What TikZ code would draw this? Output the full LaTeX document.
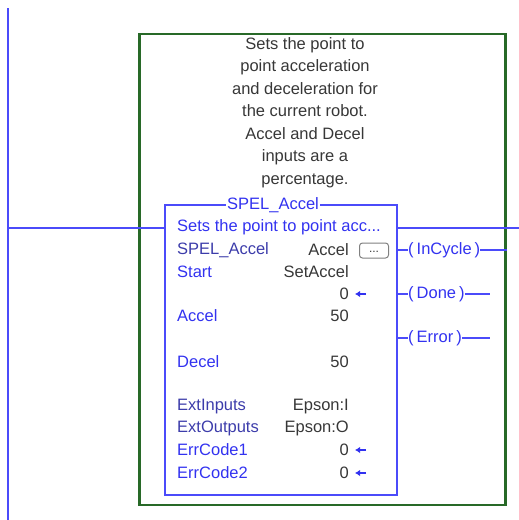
\documentclass[tikz,border=0pt]{standalone}
\usepackage{fontspec}
\setmainfont{Liberation Sans}
\usetikzlibrary{arrows.meta}
\definecolor{lblue}{RGB}{75,75,250}
\definecolor{tblue}{RGB}{50,50,240}
\definecolor{slate}{RGB}{60,60,170}
\definecolor{tgray}{RGB}{55,55,55}
\definecolor{lgreen}{RGB}{40,105,40}
\begin{document}
\begin{tikzpicture}[x=1pt,y=-1pt,
  txt/.style={inner sep=0pt,font=\fontsize{16.5}{22.5}\selectfont},
  lbl/.style={txt,anchor=west,text=tblue},
  slbl/.style={txt,anchor=west,text=slate},
  val/.style={txt,anchor=east,text=tgray},
  coil/.style={txt,anchor=west,text=tblue},
  wire/.style={draw=lblue,line width=1.5pt},
  back/.style={-{Latex[length=5pt,width=6.5pt]},draw=tblue,line width=1.7pt}]
\useasboundingbox (0,0) rectangle (519,520);
% rails
\coordinate (railtop) at (8,8);
\coordinate (railbot) at (8,520);
\draw[wire] (railtop) -- (railbot);
% green box
\node[draw=lgreen,line width=2.5pt,minimum width=366pt,minimum height=471pt,inner sep=0pt] (gbox) at (322.5,269.5) {};
% description
\node[txt,text=tgray,align=center,font=\fontsize{16.5}{22.5}\selectfont] (desc) at (305,112.5)
 {Sets the point to\\point acceleration\\and deceleration for\\the current robot.\\Accel and Decel\\inputs are a\\percentage.};
% function block
\node[draw=lblue,line width=1.5pt,minimum width=232pt,minimum height=290pt,inner sep=0pt] (fb) at (281,350) {};
\node[txt,text=tblue,fill=white,inner xsep=1pt] (title) at (273,205) {SPEL\_Accel};
% rung
\coordinate (rl) at (8,228);
\coordinate (rr) at (519,228);
\draw[wire] (rl) -- (fb.west |- rl);
\draw[wire] (fb.east |- rr) -- (rr);
% rows
\node[lbl] (r0) at (177,227) {Sets the point to point acc...};
\node[slbl] (r1) at (177,250) {SPEL\_Accel};
\node[val] (v1) at (349,250) {Accel};
\node[draw=gray,rounded corners=3pt,line width=1pt,minimum width=29pt,minimum height=15pt,inner sep=0pt,font=\fontsize{12}{12}\selectfont,text=tgray] (btn) at (374,250.5) {\raisebox{-3pt}{...}};
\node[lbl] (r2) at (177,272) {Start};
\node[val] (v2) at (349,272) {SetAccel};
\node[val] (v3) at (349,294) {0};
\coordinate (a3) at (366,294);
\draw[back] (a3) -- ++(-11,0);
\node[lbl] (r4) at (177,316) {Accel};
\node[val] (v4) at (349,316) {50};
\node[lbl] (r5) at (177,362) {Decel};
\node[val] (v5) at (349,362) {50};
\node[slbl] (r6) at (177,407) {ExtInputs};
\node[val] (v6) at (349,407) {Epson:I};
\node[slbl] (r7) at (177,428) {ExtOutputs};
\node[val] (v7) at (349,428) {Epson:O};
\node[lbl] (r8) at (177,450) {ErrCode1};
\node[val] (v8) at (349,450) {0};
\coordinate (a8) at (366,450);
\draw[back] (a8) -- ++(-11,0);
\node[lbl] (r9) at (177,473) {ErrCode2};
\node[val] (v9) at (349,473) {0};
\coordinate (a9) at (366,473);
\draw[back] (a9) -- ++(-11,0);
% coils
\node[coil] (c1) at (408,250) {(\hspace{3pt}InCycle\hspace{3pt})};
\node[coil] (c2) at (408,294) {(\hspace{3pt}Done\hspace{3pt})};
\node[coil] (c3) at (408,338) {(\hspace{3pt}Error\hspace{3pt})};
\coordinate (e2) at (490,294);
\coordinate (e3) at (490,338);
\draw[wire] (fb.east |- c1) -- (c1.west);
\draw[wire] (c1.east) -- (gbox.east |- c1);
\draw[wire] (fb.east |- c2) -- (c2.west);
\draw[wire] (c2.east) -- (e2);
\draw[wire] (fb.east |- c3) -- (c3.west);
\draw[wire] (c3.east) -- (e3);
\end{tikzpicture}
\end{document}
